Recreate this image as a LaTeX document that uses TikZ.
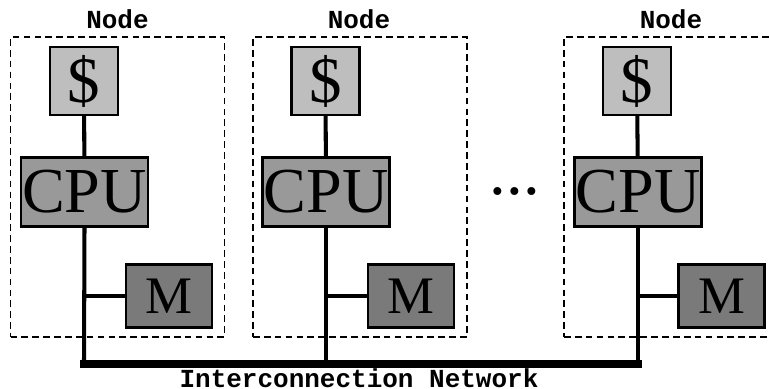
\documentclass[tikz,border=0pt]{standalone}
\usepackage{fontspec}
\setmainfont{Liberation Serif}
\setmonofont{Liberation Mono}
\usepackage{tikz}
\usetikzlibrary{positioning}
\definecolor{CacheGray}{RGB}{190, 190, 190}
\definecolor{CpuGray}{RGB}{153, 153, 153}
\definecolor{MemGray}{RGB}{122, 122, 122}
\tikzset{
  nodebox/.style={draw, dashed, dash pattern=on 3.8pt off 2.4pt, line width=1pt, minimum width=4.28cm, minimum height=6cm},
  cachebox/.style={draw, line width=1.3pt, fill=CacheGray, inner sep=0pt, minimum width=1.36cm, minimum height=1.36cm, font=\fontsize{37}{37}\selectfont},
  cpubox/.style={draw, line width=1.3pt, fill=CpuGray, inner sep=0pt, minimum width=2.54cm, minimum height=1.38cm, font=\fontsize{36.5}{36.5}\selectfont},
  membox/.style={draw, line width=1.3pt, fill=MemGray, inner sep=0pt, minimum width=1.72cm, minimum height=1.26cm, font=\fontsize{30}{30}\selectfont},
  tag/.style={inner sep=0pt, font=\fontsize{14.8}{15}\selectfont\ttfamily\bfseries},
  wire/.style={line width=2.3pt},
  bus/.style={line width=4.2pt, line cap=rect}
}

\begin{document}
\begin{tikzpicture}[x=0.02cm, y=-0.02cm]
\useasboundingbox (0,0) rectangle (769,389);
\clip (0,0) rectangle (769,389);
% dashed node frames
\node[nodebox] (frameA) at (117.5,187) {}; \node[tag] (tagA) at (117.5,19) {Node};
\node[nodebox] (frameB) at (360,187) {}; \node[tag] (tagB) at (359,19) {Node};
\node[nodebox] (frameC) at (671,187) {}; \node[tag] (tagC) at (671,19) {Node};
% caches, processors, memories
\node[cachebox] (cacheA) at (84,81) {\$}; \node[cpubox] (cpuA) at (84.5,192) {CPU}; \node[membox] (memA) at (169,296) {M};
\node[cachebox] (cacheB) at (325.5,81) {\$}; \node[cpubox] (cpuB) at (326,192) {CPU}; \node[membox] (memB) at (411,296) {M};
\node[cachebox] (cacheC) at (637,81) {\$}; \node[cpubox] (cpuC) at (638,192) {CPU}; \node[membox] (memC) at (721.5,296) {M};
\node[font=\fontsize{38}{38}\selectfont] (dots) at (515,191) {...};
\coordinate (busA) at (84,364);
\coordinate (busB) at (326,364);
\coordinate (busC) at (638,364);
% links
\draw[wire] (cacheA) -- (cpuA); \draw[wire] (cpuA.south) -- (busA); \draw[wire] (memA.west) -- (memA.west -| cpuA.south);
\draw[wire] (cacheB) -- (cpuB); \draw[wire] (cpuB.south) -- (busB); \draw[wire] (memB.west) -- (memB.west -| cpuB.south);
\draw[wire] (cacheC) -- (cpuC); \draw[wire] (cpuC.south) -- (busC); \draw[wire] (memC.west) -- (memC.west -| cpuC.south);
\draw[bus] (busA) -- (busC);
\node[tag] (net) at (359,378) {Interconnection Network};
\end{tikzpicture}
\end{document}
